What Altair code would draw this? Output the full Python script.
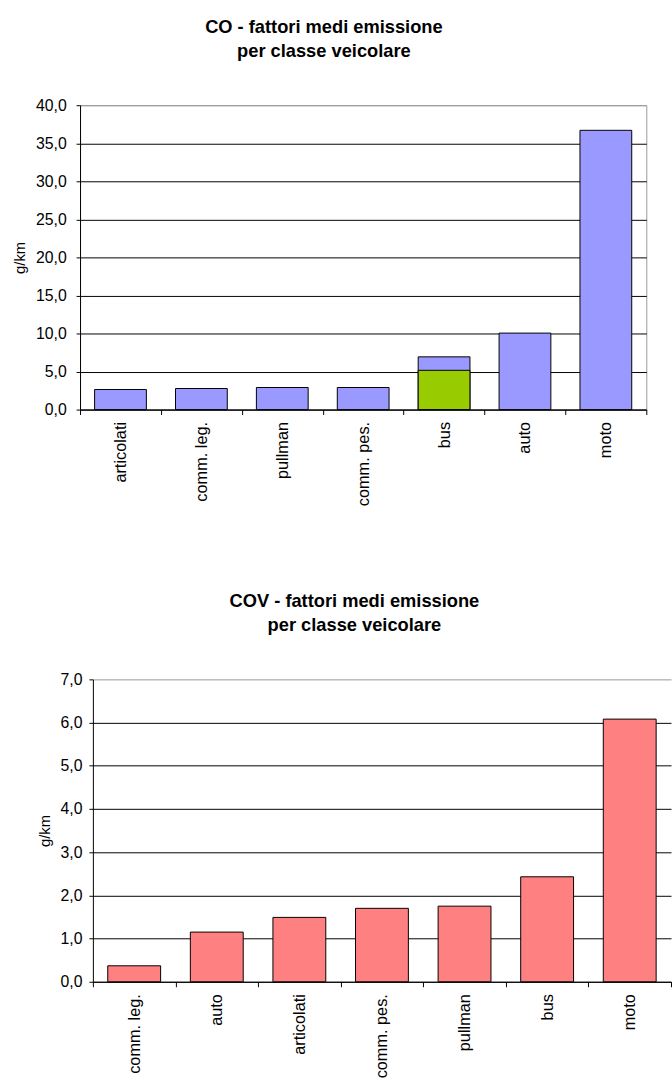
import altair as alt
import pandas as pd

# ---- data ----
co_cats = ["articolati", "comm. leg.", "pullman", "comm. pes.", "bus", "auto", "moto"]
co_vals = [2.64, 2.77, 2.90, 2.90, 6.93, 10.05, 36.7]
co_green_cats = ["bus"]
co_green_vals = [5.16]
co_ticks = [0, 5, 10, 15, 20, 25, 30, 35, 40]

cov_cats = ["comm. leg.", "auto", "articolati", "comm. pes.", "pullman", "bus", "moto"]
cov_vals = [0.37, 1.15, 1.49, 1.70, 1.75, 2.43, 6.08]
cov_ticks = [0, 1, 2, 3, 4, 5, 6, 7]

FONT = "Liberation Sans"
LABEL_EXPR = "replace(format(datum.value, '.1f'), '.', ',')"


def make_panel(cats, vals, ticks, color, w, h, title, lab_pad, inset=0, shift=0, green=None):
    dmax = ticks[-1]
    df = pd.DataFrame({"cat": cats, "val": vals})
    if inset:
        xscale = alt.Scale(paddingInner=0, paddingOuter=0, range=[inset, w])
    else:
        xscale = alt.Scale(paddingInner=0, paddingOuter=0)
    x = alt.X(
        "cat:N",
        sort=cats,
        scale=xscale,
        axis=alt.Axis(
            title=None,
            labelAngle=270,
            tickBand="extent",
            labelFontSize=16.5,
            labelFont=FONT,
            labelColor="black",
            labelPadding=7,
            tickSize=5,
            tickColor="black",
            domainColor="black",
        ),
    )
    y = alt.Y(
        "val:Q",
        scale=alt.Scale(domain=[0, dmax], nice=False),
        axis=alt.Axis(
            title="g/km",
            titleFont=FONT,
            titleFontSize=15,
            titleFontWeight="normal",
            titleColor="black",
            titlePadding=8,
            values=ticks,
            labelExpr=LABEL_EXPR,
            labelFont=FONT,
            labelFontSize=16,
            labelColor="black",
            labelPadding=lab_pad,
            labelOverlap=False,
            tickSize=4,
            tickColor="black",
            domainColor="black",
            offset=-inset,
            grid=True,
            gridColor=alt.condition(f"datum.value >= {dmax}", alt.value("#999999"), alt.value("black")),
            gridWidth=1,
        ),
    )
    layers = [
        alt.Chart(df)
        .mark_bar(width=alt.RelativeBandSize(0.64), fill=color, stroke="black", strokeWidth=1)
        .encode(x=x, y=y)
    ]
    if green is not None:
        gdf = pd.DataFrame({"cat": green[0], "val": green[1]})
        layers.append(
            alt.Chart(gdf)
            .mark_bar(width=alt.RelativeBandSize(0.64), fill="#99CC00", stroke="black", strokeWidth=1)
            .encode(x=x, y=y)
        )
    if shift:
        layers.append(
            alt.Chart(df)
            .mark_rule(opacity=0)
            .encode(x=alt.value(-shift), y=alt.value(0), y2=alt.value(1))
        )
    props = dict(
        width=w,
        height=h,
        title=alt.TitleParams(
            title,
            font=FONT,
            fontSize=18.5,
            fontWeight="bold",
            color="black",
            lineHeight=25,
            anchor="middle",
            frame="bounds",
            offset=37,
        ),
    )
    if inset:
        props["view"] = alt.ViewBackground(stroke=None)
    return alt.layer(*layers).properties(**props)


top = make_panel(
    co_cats, co_vals, co_ticks, "#9999FF", 573, 308,
    ["CO - fattori medi emissione", "per classe veicolare"],
    lab_pad=10, shift=80,
    green=(co_green_cats, co_green_vals),
)
bottom = make_panel(
    cov_cats, cov_vals, cov_ticks, "#FF8080", 598, 306,
    ["COV - fattori medi emissione", "per classe veicolare"],
    lab_pad=7, inset=13,
)

chart = (
    alt.vconcat(top, bottom, spacing=86)
    .properties(padding={"left": 0, "top": 11, "right": 0, "bottom": 0}, background="white")
    .configure_view(stroke="#999999")
)

chart.save("out.html", embed_options={"renderer": "svg", "actions": False})
